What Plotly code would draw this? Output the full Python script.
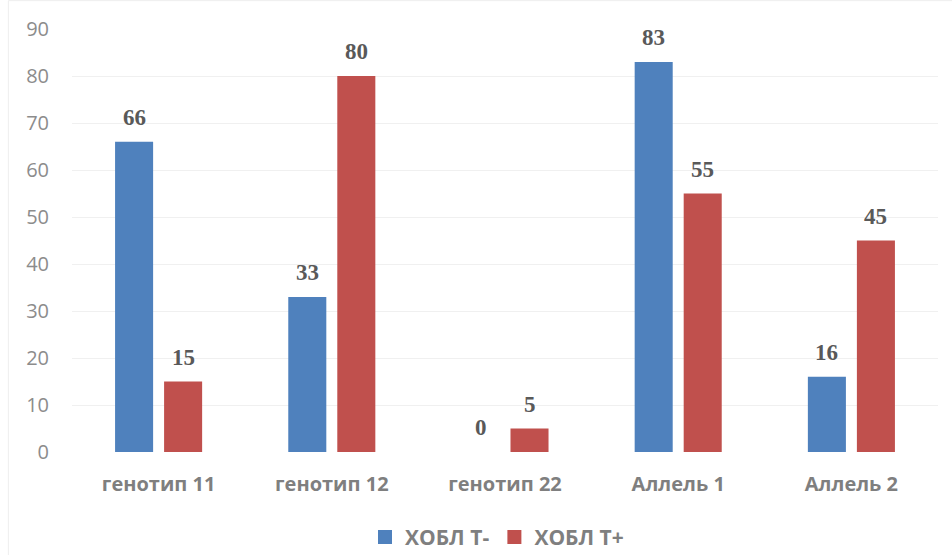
import plotly.graph_objects as go

categories = ["генотип 11", "генотип 12", "генотип 22", "Аллель 1", "Аллель 2"]
series_names = ["ХОБЛ Т-", "ХОБЛ Т+"]
copd_t_minus = [66, 33, 0, 83, 16]
copd_t_plus = [15, 80, 5, 55, 45]
y_ticks = [0, 10, 20, 30, 40, 50, 60, 70, 80, 90]

colors = ["#4F81BD", "#C0504D"]

fig = go.Figure()
for name, vals, col in zip(series_names, [copd_t_minus, copd_t_plus], colors):
    fig.add_trace(go.Bar(
        x=categories, y=vals, name=name, offsetgroup=name, showlegend=False,
        marker=dict(color=col, line=dict(width=0)),
        cliponaxis=False,
    ))

# legend entries with larger square swatches
for name, col in zip(series_names, colors):
    fig.add_trace(go.Scatter(
        x=[None], y=[None], mode="markers", name=name,
        marker=dict(symbol="square", size=14, color=col),
    ))

# value labels above each bar, positioned at the bar's own value
bar_offsets = [-24.5, 24.5]
for vals, dx in zip([copd_t_minus, copd_t_plus], bar_offsets):
    for cat, v in zip(categories, vals):
        fig.add_annotation(
            x=cat, y=v, xref="x", yref="y", text=f"<b>{v}</b>",
            showarrow=False, yanchor="bottom", xshift=dx, yshift=10,
            font=dict(family="Liberation Serif", size=23, color="#595959"),
        )

fig.update_layout(
    width=952, height=555,
    margin=dict(l=72, r=14, t=29, b=103, autoexpand=False),
    paper_bgcolor="white", plot_bgcolor="white",
    barmode="group", bargap=0.434, bargroupgap=0.224,
    showlegend=True,
    legend=dict(
        orientation="h", x=0.3834, xref="container", xanchor="left",
        y=0.032, yref="container", yanchor="middle",
        font=dict(family="Open Sans", size=21, color="#7f7f7f", weight="bold"),
        traceorder="normal", itemwidth=30,
    ),
    xaxis=dict(
        showgrid=False, showline=False, ticks="",
        tickfont=dict(family="Open Sans", size=20, color="#7f7f7f", weight="bold"),
        ticklabelstandoff=18,
    ),
    yaxis=dict(
        range=[0, 90], tickvals=y_ticks, showline=False, zeroline=False,
        gridcolor="#f0f0f0", gridwidth=1, ticks="",
        tickfont=dict(family="Open Sans", size=20, color="#8c8c8c"),
        ticklabelstandoff=22,
    ),
    shapes=[
        dict(type="line", xref="paper", yref="paper", x0=-0.0735, x1=1.02, y0=1.067, y1=1.067,
             line=dict(color="#eeeeee", width=1)),
        dict(type="line", xref="paper", yref="paper", x0=-0.0735, x1=-0.0735, y0=1.067, y1=-0.25,
             line=dict(color="#eeeeee", width=1)),
    ],
)

fig.write_html("out.html")
